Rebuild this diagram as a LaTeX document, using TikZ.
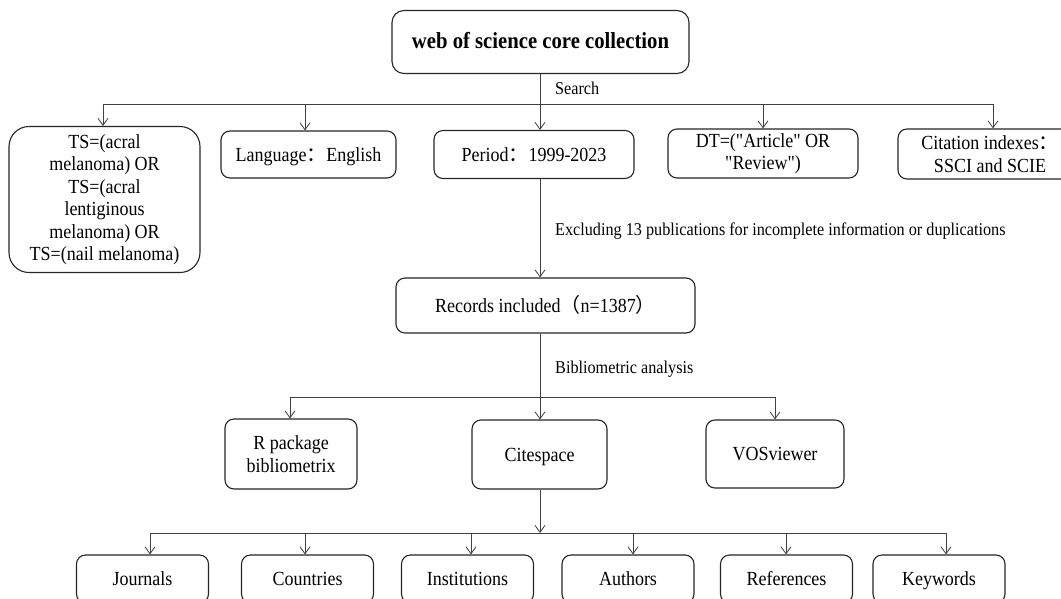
\documentclass[tikz,border=0pt]{standalone}
\usepackage{fontspec}
\setmainfont{Liberation Serif}[Ligatures=TeXOff, FakeStretch=0.9]
\newfontfamily\cjk{Noto Sans CJK SC}
\usetikzlibrary{arrows.meta}
\begin{document}
\begin{tikzpicture}[x=1pt,y=-1pt,
  box/.style={draw=black!85, line width=1.1pt, rounded corners=9pt, align=center, inner sep=0pt,
    font=\fontsize{20}{22.5}\selectfont},
  one/.style={text height=15pt, text depth=2pt},
  lbl/.style={anchor=west, inner sep=0pt, font=\fontsize{18}{20}\selectfont},
  conn/.style={draw=black!75, line width=0.9pt},
  arr/.style={conn, -{Straight Barb[length=7pt,width=10pt,line width=0.8pt]}}]
\clip (0,0) rectangle (1061,598);
\fill[white] (0,0) rectangle (1061,598);

% nodes
\node[box, one, rounded corners=12pt, minimum width=297pt, minimum height=63pt,
  font=\fontsize{23}{26}\selectfont\bfseries] (top) at (540.5,42) {web of science core collection};
\node[box, rounded corners=20pt, minimum width=191pt, minimum height=146pt] (ts) at (104.5,199.5)
  {TS=(acral\\melanoma) OR\\TS=(acral\\lentiginous\\melanoma) OR\\TS=(nail melanoma)};
\node[box, one, minimum width=175pt, minimum height=47pt] (lang) at (308.5,154.5) {Language{\cjk ：}English};
\node[box, one, minimum width=200pt, minimum height=48pt] (period) at (534,154.5) {Period{\cjk ：}1999-2023};
\node[box, minimum width=190pt, minimum height=49pt] (dt) at (763,153.5) {DT=("Article" OR\\"Review")};
\node[box, minimum width=184pt, minimum height=50pt] (cit) at (990,154) {Citation indexes{\cjk ：}\\SSCI and SCIE};
\node[box, one, minimum width=299pt, minimum height=55pt] (rec) at (545.5,305.5) {Records included{\cjk （}n=1387{\cjk ）}};
\node[box, minimum width=132pt, minimum height=70pt] (rpkg) at (291,454) {R package\\bibliometrix};
\node[box, one, minimum width=135pt, minimum height=69pt] (cite) at (539.5,454.5) {Citespace};
\node[box, one, minimum width=138pt, minimum height=68pt] (vos) at (775,454) {VOSviewer};
\node[box, one, minimum width=132pt, minimum height=48pt] (jou) at (142.5,579) {Journals};
\node[box, one, minimum width=132pt, minimum height=48pt] (cou) at (307.5,579) {Countries};
\node[box, one, minimum width=132pt, minimum height=48pt] (ins) at (467.5,579) {Institutions};
\node[box, one, minimum width=132pt, minimum height=48pt] (aut) at (628,579) {Authors};
\node[box, one, minimum width=132pt, minimum height=48pt] (ref) at (786.5,579) {References};
\node[box, one, minimum width=132pt, minimum height=48pt] (key) at (939,579) {Keywords};

% labels
\node[lbl] (lsearch) at (555,88) {Search};
\node[lbl] (lexcl) at (555,231) {Excluding 13 publications for incomplete information or duplications};
\node[lbl] (lbib) at (555,369) {Bibliometric analysis};

% search branch
\coordinate (s0) at (540,104);
\coordinate (s1) at (103,104);
\coordinate (s2) at (305,104);
\coordinate (s4) at (763,104);
\coordinate (s5) at (993,104);
\draw[conn] (top.south -| s0) -- (s0);
\draw[conn] (s1) -- (s5);
\draw[arr] (s1) -- (s1 |- ts.north);
\draw[arr] (s2) -- (s2 |- lang.north);
\draw[arr] (s0) -- (s0 |- period.north);
\draw[arr] (s4) -- (s4 |- dt.north);
\draw[arr] (s5) -- (s5 |- cit.north);

% period to records
\draw[arr] (period.south -| s0) -- (rec.north -| s0);

% records to tools
\coordinate (b0) at (540,397);
\coordinate (b1) at (290,397);
\coordinate (b3) at (775,397);
\draw[conn] (rec.south -| b0) -- (b0);
\draw[conn] (b1) -- (b3);
\draw[arr] (b1) -- (b1 |- rpkg.north);
\draw[arr] (b0) -- (b0 |- cite.north);
\draw[arr] (b3) -- (b3 |- vos.north);

% citespace to outputs
\coordinate (c0) at (540,533);
\coordinate (c1) at (150,533);
\coordinate (c2) at (305,533);
\coordinate (c3) at (471,533);
\coordinate (c4) at (633,533);
\coordinate (c5) at (786,533);
\coordinate (c6) at (946,533);
\draw[arr] (cite.south -| c0) -- (c0);
\draw[conn] (c1) -- (c6);
\draw[arr] (c1) -- (c1 |- jou.north);
\draw[arr] (c2) -- (c2 |- cou.north);
\draw[arr] (c3) -- (c3 |- ins.north);
\draw[arr] (c4) -- (c4 |- aut.north);
\draw[arr] (c5) -- (c5 |- ref.north);
\draw[arr] (c6) -- (c6 |- key.north);
\end{tikzpicture}
\end{document}
